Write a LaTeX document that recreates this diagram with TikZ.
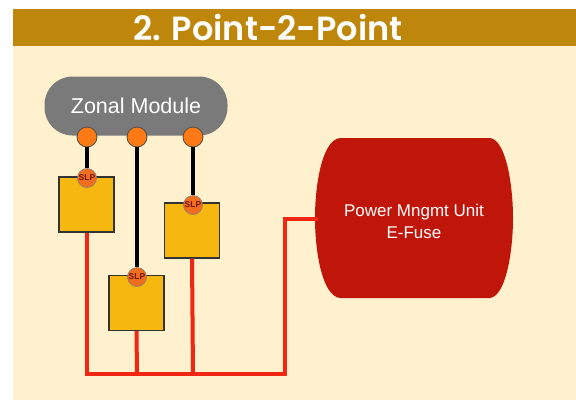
\documentclass[tikz,border=0pt]{standalone}
\usepackage{fontspec}
\setmainfont{Liberation Sans}
\newfontfamily\poppins{Poppins}[BoldFont={Poppins SemiBold}]
\definecolor{titlebar}{RGB}{190,135,12}
\definecolor{cream}{RGB}{255,240,206}
\definecolor{boxfill}{RGB}{246,184,14}
\definecolor{portfill}{RGB}{255,122,20}
\definecolor{slpfill}{RGB}{240,110,30}
\definecolor{slptext}{RGB}{120,20,10}
\definecolor{wirered}{RGB}{240,38,18}
\definecolor{pmufill}{RGB}{192,22,10}
\definecolor{zonegray}{RGB}{122,122,122}
\begin{document}
\begin{tikzpicture}[x=1pt,y=-1pt,
  ecu/.style={draw=black!80,line width=1.2pt,fill=boxfill,minimum width=55pt,minimum height=55pt,inner sep=0pt},
  port/.style={circle,draw=black!70,line width=0.8pt,fill=portfill,minimum size=20pt,inner sep=0pt},
  slp/.style={circle,draw=black!50,line width=0.6pt,fill=slpfill,minimum size=19pt,inner sep=0pt,font=\fontsize{8.5}{8.5}\selectfont\bfseries,text=slptext},
  signal/.style={line width=4pt,black},
  power/.style={line width=4pt,wirered,line join=miter}]
\useasboundingbox (0,0) rectangle (576,400);
\fill[cream] (13,46) rectangle (576,400);
\fill[titlebar] (13,9) rectangle (576,46);
\node[text=white,font=\poppins\bfseries\fontsize{33.5}{33.5}\selectfont] (title) at (268,28) {2. Point-2-Point};
% zonal module
\node[fill=zonegray,rounded corners=28pt,minimum width=183pt,minimum height=59pt,text=white,font=\fontsize{21.5}{21.5}\selectfont] (zm) at (136,106) {Zonal Module};
% ECU boxes
\node[ecu] (b1) at (86.5,204.5) {};
\node[ecu] (b3) at (192,230.5) {};
\node[ecu] (b2) at (136.5,303) {};
% power lines
\coordinate (bl) at (87,374);
\coordinate (bm) at (137,374);
\coordinate (br) at (193,374);
\coordinate (bx) at (285,374);
\coordinate (up) at (285,219);
% PMU
\path[fill=pmufill] (340,138) -- (490,138)
  .. controls (506,140) and (513,185) .. (513,218)
  .. controls (513,251) and (506,296) .. (490,298)
  -- (340,298)
  .. controls (322,296) and (315,251) .. (315,218)
  .. controls (315,185) and (322,140) .. (340,138) -- cycle;
\node[text=white,align=center,font=\fontsize{17}{22}\selectfont] (pmu) at (414,221) {Power Mngmt Unit\\E-Fuse};
\coordinate (pmuw) at (318,219);
\draw[power] (b1.south -| bl) -- (bl) -- (bx) -- (up) -- (pmuw);
\draw[power] (b2.south) -- (bm);
\draw[power] (b3.south) -- (br);
% ports
\node[port] (p1) at (87,137) {};
\node[port] (p2) at (137,137) {};
\node[port] (p3) at (193,137) {};
\node[slp] (s1) at (87,178) {SLP};
\node[slp] (s2) at (137,277) {SLP};
\node[slp] (s3) at (193,205) {SLP};
\draw[signal] (p1) -- (s1);
\draw[signal] (p2) -- (s2);
\draw[signal] (p3) -- (s3);
\end{tikzpicture}
\end{document}
